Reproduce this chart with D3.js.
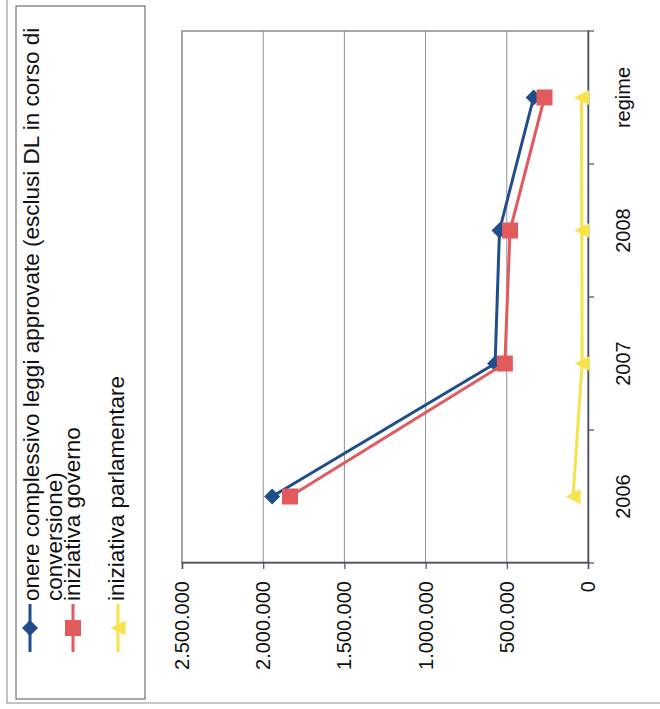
<!DOCTYPE html>
<html>
<head>
<meta charset="utf-8">
<script src="https://cdn.jsdelivr.net/npm/d3@7/dist/d3.min.js"></script>
<style>
  html, body { margin: 0; padding: 0; background: #ffffff; }
  svg { display: block; }
  text { font-family: "Liberation Sans", Arial, sans-serif; fill: #111; }
</style>
</head>
<body>
<svg id="chart" width="660" height="709"></svg>
<script>
// ---- data ----
const categories = ["2006", "2007", "2008", "regime"];
const totalValues = [1945000, 572000, 545000, 335000];
const governoValues = [1835000, 512000, 480000, 268000];
const parlamentareValues = [92000, 36000, 38000, 40000];
const valueTicks = [0, 500000, 1000000, 1500000, 2000000, 2500000];
const seriesNames = [
  ["onere complessivo leggi approvate (esclusi DL in corso di", "conversione)"],
  ["iniziativa governo"],
  ["iniziativa parlamentare"]
];
const seriesColors = ["#1F4E8A", "#E05A5E", "#F7E24A"];
const seriesShapes = ["diamond", "square", "triangle"];

// ---- layout (chart drawn upright, then rotated -90deg onto the page) ----
const PAGE_W = 660, PAGE_H = 709;
const svg = d3.select("#chart");
svg.append("rect").attr("width", PAGE_W).attr("height", PAGE_H).attr("fill", "#fff");

const g = svg.append("g").attr("transform", `translate(0,${PAGE_H}) rotate(-90)`);

const plot = { left: 146, right: 678, top: 182, bottom: 588 };

const x = d3.scaleBand().domain(categories).range([plot.left, plot.right]).padding(0);
const y = d3.scaleLinear().domain([0, 2500000]).range([plot.bottom, plot.top]);

const it = d3.formatLocale({ decimal: ",", thousands: ".", grouping: [3], currency: ["", ""] });
const fmt = it.format(",d");

// outer chart border (only left/top edges visible on page)
g.append("rect")
  .attr("x", 6).attr("y", 7).attr("width", 720).attr("height", 700)
  .attr("fill", "none").attr("stroke", "#8a8a8a").attr("stroke-width", 1);

// plot area frame
g.append("rect")
  .attr("x", plot.left).attr("y", plot.top)
  .attr("width", plot.right - plot.left).attr("height", plot.bottom - plot.top)
  .attr("fill", "#fff").attr("stroke", "#8a8a8a").attr("stroke-width", 1.5);

// gridlines
g.append("g").selectAll("line")
  .data(valueTicks.filter(d => d > 0 && d < 2500000))
  .join("line")
  .attr("x1", plot.left).attr("x2", plot.right)
  .attr("y1", d => y(d)).attr("y2", d => y(d))
  .attr("stroke", "#8f8f8f").attr("stroke-width", 1);

// value axis
const yAxis = g.append("g")
  .attr("transform", `translate(${plot.left},0)`)
  .call(d3.axisLeft(y).tickValues(valueTicks).tickFormat(fmt).tickSize(6).tickPadding(12));
yAxis.select(".domain").attr("stroke", "#4a4f63").attr("stroke-width", 1.5);
yAxis.selectAll(".tick line").attr("stroke", "#4a4f63").attr("stroke-width", 1.2);
yAxis.selectAll(".tick text")
  .style("font-family", '"Liberation Sans", Arial, sans-serif')
  .style("font-size", "20px").attr("fill", "#111");

// category axis
const xAxis = g.append("g")
  .attr("transform", `translate(0,${plot.bottom})`)
  .call(d3.axisBottom(x).tickSize(0).tickPadding(28));
xAxis.select(".domain").attr("stroke", "#4a4f63").attr("stroke-width", 1.5);
xAxis.selectAll(".tick text")
  .style("font-family", '"Liberation Sans", Arial, sans-serif')
  .style("font-size", "20px").attr("fill", "#111");
const bounds = categories.map(c => x(c)).concat([x(categories[categories.length - 1]) + x.bandwidth()]);
g.append("g").selectAll("line").data(bounds).join("line")
  .attr("x1", d => d).attr("x2", d => d)
  .attr("y1", plot.bottom).attr("y2", plot.bottom + 6)
  .attr("stroke", "#4a4f63").attr("stroke-width", 1.2);

function markerPath(shape, cx, cy, s) {
  const h = s / 2;
  if (shape === "diamond") return `M${cx},${cy - h}L${cx + h},${cy}L${cx},${cy + h}L${cx - h},${cy}Z`;
  if (shape === "square") return `M${cx - h},${cy - h}h${s}v${s}h${-s}Z`;
  return `M${cx},${cy - h}L${cx + h},${cy + h}L${cx - h},${cy + h}Z`;
}
const markerSize = { diamond: 16, square: 16, triangle: 15 };

const seriesValues = [totalValues, governoValues, parlamentareValues];
const line = d3.line().x((d, i) => x(categories[i]) + x.bandwidth() / 2).y(d => y(d));

seriesValues.forEach((vals, si) => {
  const sg = g.append("g");
  sg.append("path").datum(vals)
    .attr("d", line)
    .attr("fill", "none")
    .attr("stroke", seriesColors[si]).attr("stroke-width", 3)
    .attr("stroke-linejoin", "round");
  sg.selectAll("path.m").data(vals).join("path")
    .attr("class", "m")
    .attr("d", (d, i) => markerPath(seriesShapes[si],
      x(categories[i]) + x.bandwidth() / 2, y(d), markerSize[seriesShapes[si]]))
    .attr("fill", seriesColors[si]);
});

// legend
const legend = g.append("g");
legend.append("rect")
  .attr("x", 10).attr("y", 16).attr("width", 693).attr("height", 129)
  .attr("fill", "#fff").attr("stroke", "#555").attr("stroke-width", 1);

const legendMarkerV = [30, 73, 118];
const legendBaselines = [[39, 62], [80], [124]];
seriesNames.forEach((lines, si) => {
  const v = legendMarkerV[si];
  legend.append("line")
    .attr("x1", 57).attr("x2", 105).attr("y1", v).attr("y2", v)
    .attr("stroke", seriesColors[si]).attr("stroke-width", 3);
  legend.append("path")
    .attr("d", markerPath(seriesShapes[si], 81, v, markerSize[seriesShapes[si]]))
    .attr("fill", seriesColors[si]);
  lines.forEach((t, li) => {
    legend.append("text")
      .attr("x", 108).attr("y", legendBaselines[si][li])
      .style("font-size", "22.5px")
      .text(t);
  });
});
</script>
</body>
</html>
